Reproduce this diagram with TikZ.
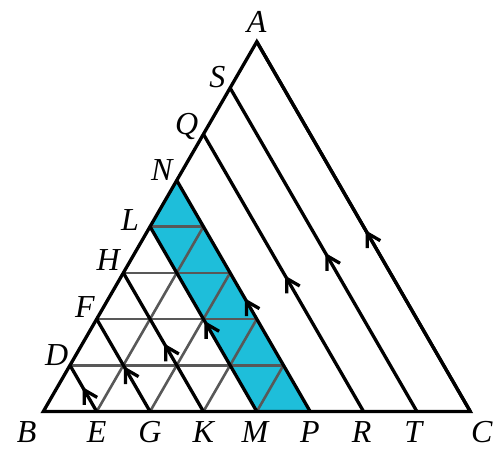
\documentclass[tikz,border=0pt]{standalone}
\usepackage{fontspec}
\setmainfont{Liberation Serif}
\usetikzlibrary{arrows.meta,decorations.markings}
\definecolor{stripcol}{RGB}{30,190,218}
\definecolor{gridcol}{RGB}{88,88,88}
\begin{document}
\begin{tikzpicture}[x=1pt,y=-1pt,
  blk/.style={line width=3.3pt, line join=miter},
  gridln/.style={draw=gridcol, line width=2.6pt},
  lbl/.style={font=\fontsize{32}{32}\selectfont\itshape, inner sep=0pt},
  midarrow/.style={postaction={decorate},decoration={markings,mark=at position #1 with {\arrow{Straight Barb[angle=60:15pt,line width=3.3pt]}}}}
]
\useasboundingbox (0,0) rectangle (503,448);
% base points
\coordinate (B) at (43.3,411.5);
\coordinate (E) at (96.675,411.5);
\coordinate (G) at (150.05,411.5);
\coordinate (K) at (203.425,411.5);
\coordinate (M) at (256.8,411.5);
\coordinate (P) at (310.175,411.5);
\coordinate (R) at (363.55,411.5);
\coordinate (T) at (416.925,411.5);
\coordinate (C) at (470.3,411.5);
% left side points
\coordinate (D) at (69.99,365.28);
\coordinate (F) at (96.675,319.05);
\coordinate (H) at (123.36,272.83);
\coordinate (L) at (150.05,226.6);
\coordinate (N) at (176.74,180.38);
\coordinate (Q) at (203.43,134.15);
\coordinate (S) at (230.11,87.93);
\coordinate (A) at (256.8,41.70);
% grid points on NP
\coordinate (g1) at (283.49,365.28);
\coordinate (g2) at (256.8,319.05);
\coordinate (g3) at (230.11,272.83);
\coordinate (g4) at (203.43,226.6);
% shaded strip
\fill[stripcol] (L) -- (N) -- (P) -- (M) -- cycle;
% gray grid
\draw[gridln] (D) -- (g1);
\draw[gridln] (F) -- (g2);
\draw[gridln] (H) -- (g3);
\draw[gridln] (L) -- (g4);
\draw[gridln] (E) -- (g4);
\draw[gridln] (G) -- (g3);
\draw[gridln] (K) -- (g2);
\draw[gridln] (M) -- (g1);
% black lines
\draw[blk] (A) -- (B) -- (C) -- cycle;
\draw[blk,midarrow=0.53] (E) -- (D);
\draw[blk,midarrow=0.49] (G) -- (F);
\draw[blk,midarrow=0.49] (K) -- (H);
\draw[blk,midarrow=0.49] (M) -- (L);
\draw[blk,midarrow=0.49] (P) -- (N);
\draw[blk,midarrow=0.49] (R) -- (Q);
\draw[blk,midarrow=0.49] (T) -- (S);
\draw[blk,midarrow=0.49] (C) -- (A);
% labels
\node[lbl] (tA) at (256.7,21.7) {A};
\node[lbl] (tS) at (217.3,76.7) {S};
\node[lbl] (tQ) at (186.7,126.7) {Q};
\node[lbl] (tN) at (161.7,170) {N};
\node[lbl] (tL) at (130,220) {L};
\node[lbl] (tH) at (108.3,260) {H};
\node[lbl] (tF) at (85,306.7) {F};
\node[lbl] (tD) at (56.7,355) {D};
\node[lbl] (tB) at (26.7,431.7) {B};
\node[lbl] (tE) at (96.7,431.7) {E};
\node[lbl] (tG) at (150,431.7) {G};
\node[lbl] (tK) at (203.3,431.7) {K};
\node[lbl] (tM) at (255,431.7) {M};
\node[lbl] (tP) at (310,431.7) {P};
\node[lbl] (tR) at (361.7,431.7) {R};
\node[lbl] (tT) at (413.3,431.7) {T};
\node[lbl] (tC) at (481.7,431.7) {C};
\end{tikzpicture}
\end{document}
